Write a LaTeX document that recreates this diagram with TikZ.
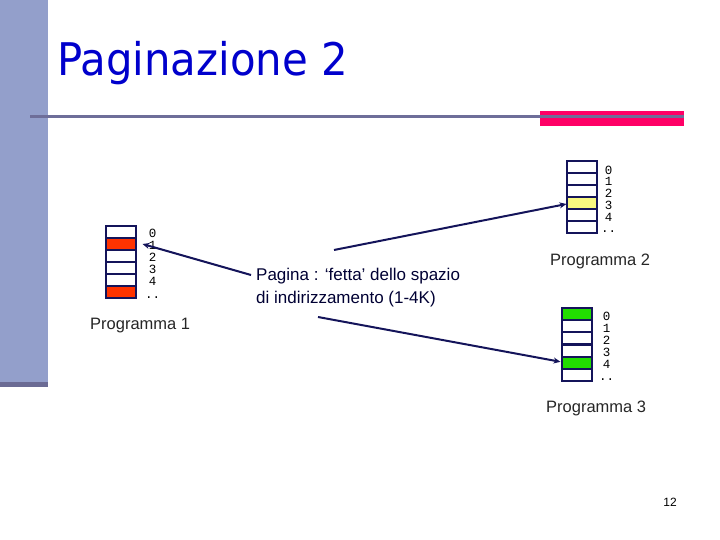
\documentclass[tikz,border=0pt]{standalone}
\usepackage{fontspec}
\setmainfont{Liberation Sans}
\newfontfamily\titlefont{DejaVu Sans}
\newfontfamily\monof{Liberation Mono}
\usetikzlibrary{arrows.meta}
\definecolor{barblue}{HTML}{939FCB}
\definecolor{bardark}{HTML}{6B6B94}
\definecolor{rulegrey}{HTML}{6E6E99}
\definecolor{pinkbar}{HTML}{FF0066}
\definecolor{titleblue}{HTML}{0000CC}
\definecolor{navy}{HTML}{14145A}
\definecolor{cellred}{HTML}{FF3300}
\definecolor{cellyellow}{HTML}{F7F780}
\definecolor{cellgreen}{HTML}{22DD00}
\definecolor{txtnavy}{HTML}{000033}
\tikzset{
  cell/.style={draw=navy, line width=2pt, minimum width=30pt, minimum height=12pt, inner sep=0pt, outer sep=0pt, fill=white},
  idx/.style={font=\monof\fontsize{12.5}{12}\selectfont, inner sep=0pt, text=black},
  dots/.style={font=\monof\fontsize{12.5}{12}\selectfont, inner sep=0pt, text=black, anchor=base},
  prog/.style={font=\fontsize{16.5}{18}\selectfont, anchor=base west, inner sep=0pt, text=black!85},
  arr/.style={draw=navy, line width=2pt, -{Stealth[length=7pt,width=6pt]}}
}
\begin{document}
\begin{tikzpicture}[x=1pt,y=-1pt]
\useasboundingbox (0,0) rectangle (720,540);
% decoration
\fill[barblue] (0,0) rectangle (48,383);
\fill[bardark] (0,382) rectangle (48,386.5);
\fill[pinkbar] (540,111) rectangle (684,126.5);
\draw[rulegrey, line width=3pt] (30,117) -- (684,117);
\node[anchor=base west, inner sep=0pt, text=titleblue, font=\titlefont\fontsize{45}{50}\selectfont] (title) at (57,76) {\scalebox{0.93}[1]{Paginazione 2}};
% Program 1 column
\foreach \i/\c in {0/white,1/cellred,2/white,3/white,4/white,5/cellred}{
  \node[cell, fill=\c] (pa\i) at (120.5,{232+12*\i}) {};
}
\foreach \i in {0,...,4}{
  \node[idx] (la\i) at (152.5,{233.5+12*\i}) {\i};
}
\node[dots] (lad) at (152.5,{298}) {..};
% Program 2 column
\foreach \i/\c in {0/white,1/white,2/white,3/cellyellow,4/white,5/white}{
  \node[cell, fill=\c] (pb\i) at (581.5,{167+12*\i}) {};
}
\foreach \i in {0,...,4}{
  \node[idx] (lb\i) at (608.5,{170+11.8*\i}) {\i};
}
\node[dots] (lbd) at (608.5,{232.5}) {..};
% Program 3 column
\foreach \i/\c in {0/cellgreen,1/white,2/white,3/white,4/cellgreen,5/white}{
  \node[cell, fill=\c] (pc\i) at (576.5,{314+12.2*\i}) {};
}
\foreach \i in {0,...,4}{
  \node[idx] (lc\i) at (606.5,{316+12.2*\i}) {\i};
}
\node[dots] (lcd) at (606.5,{380}) {..};
% labels
\node[prog] (prog1) at (90,329) {Programma 1};
\node[prog] (prog2) at (550,265) {Programma 2};
\node[prog] (prog3) at (546,412) {Programma 3};
\node[anchor=base west, inner sep=0pt, align=left, text=txtnavy, font=\fontsize{17}{22.6}\selectfont] (pagina) at (256,303.5) {Pagina : ‘fetta’ dello spazio\\di indirizzamento (1-4K)};
\node[anchor=base, inner sep=0pt, font=\fontsize{12}{12}\selectfont, text=black] (pnum) at (670,506.5) {12};
% arrows
\coordinate (s1) at (251,275);
\coordinate (s2) at (334,250);
\coordinate (s3) at (318,317);
\draw[arr] (s1) -- ([xshift=7pt]pa1.east);
\draw[arr] (s2) -- ([yshift=-1pt]pb3.west);
\draw[arr] (s3) -- ([xshift=-1pt,yshift=1pt]pc4.west);
\end{tikzpicture}
\end{document}
